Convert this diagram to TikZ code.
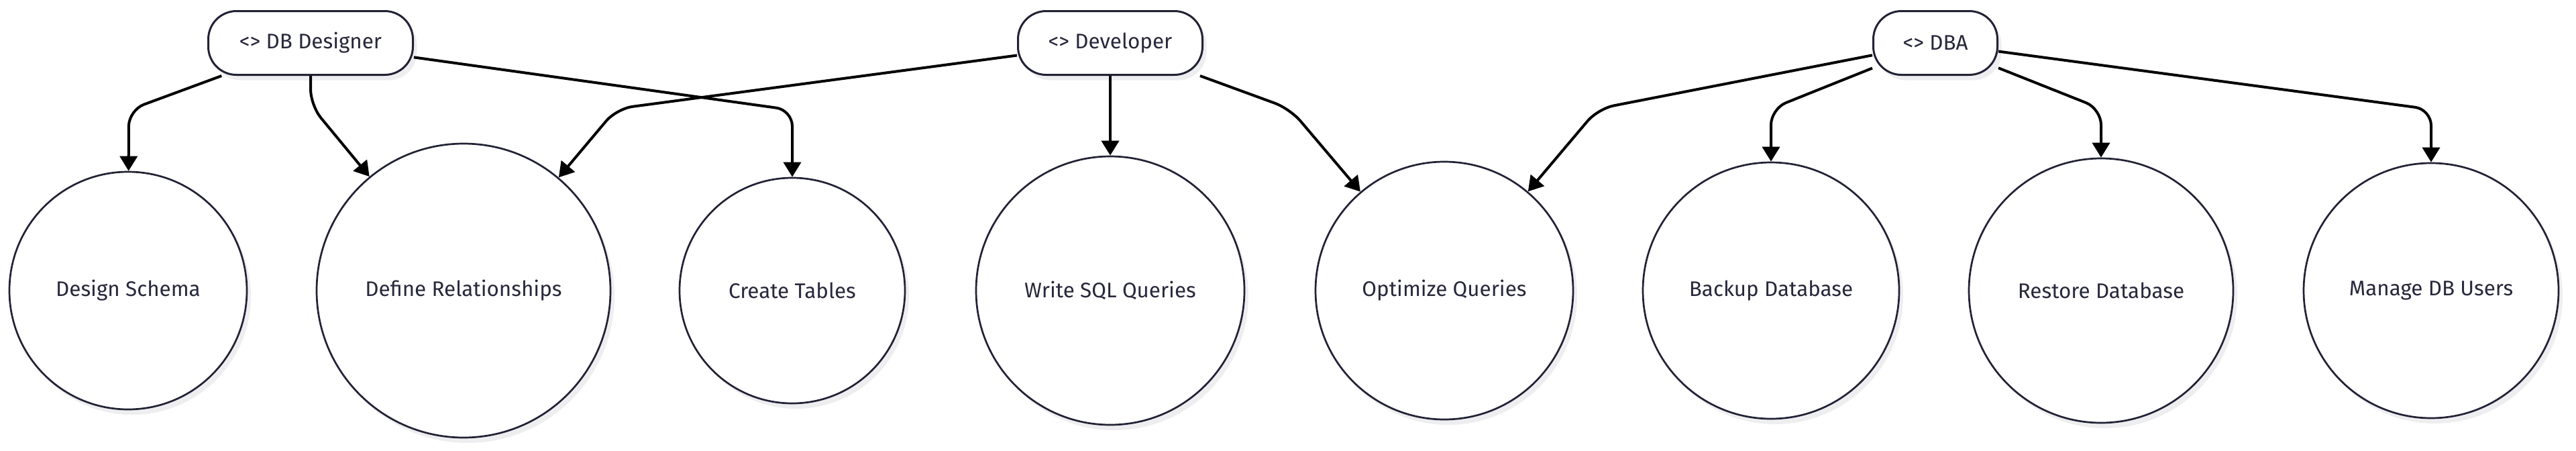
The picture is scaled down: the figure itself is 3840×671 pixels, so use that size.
\documentclass[tikz,border=0pt]{standalone}
\usepackage{fontspec}
\setmainfont{Fira Sans}
\usetikzlibrary{arrows.meta,shadows}
\definecolor{ink}{RGB}{40,40,60}
\definecolor{strokec}{RGB}{34,34,54}
\definecolor{shadowc}{RGB}{238,238,240}
\tikzset{
  px/.style={x=0.5pt,y=-0.5pt},
  actor/.style={draw=strokec, line width=1.5pt, fill=white, rectangle, rounded corners=21pt,
    minimum height=47.5pt, inner sep=0pt, text=ink, font=\fontsize{15.7}{18}\selectfont,
    drop shadow={shadow xshift=3pt, shadow yshift=-4pt, fill=shadowc, opacity=1}},
  usecase/.style={draw=strokec, line width=1.35pt, fill=white, circle, inner sep=0pt,
    text=ink, font=\fontsize{15.7}{18}\selectfont,
    drop shadow={shadow xshift=3pt, shadow yshift=-4pt, fill=shadowc, opacity=1}},
  edge/.style={draw=black, line width=2pt, rounded corners=12pt,
    -{Triangle[length=11pt,width=13pt]}},
}
\begin{document}
\begin{tikzpicture}[px]
\useasboundingbox (0,0) rectangle (3840,671);
% actors
\node[actor, minimum width=152.5pt] (dbd) at (463,64) {<> DB Designer};
\node[actor, minimum width=137.5pt] (dev) at (1655,64) {<> Developer};
\node[actor, minimum width=92.5pt]  (dba) at (2885,64) {<> DBA};
% use cases
\node[usecase, minimum size=177pt] (ds) at (191,433)  {Design Schema};
\node[usecase, minimum size=219pt] (dr) at (691,433)  {Define Relationships};
\node[usecase, minimum size=168pt] (ct) at (1181,433) {Create Tables};
\node[usecase, minimum size=200pt] (wq) at (1655,433) {Write SQL Queries};
\node[usecase, minimum size=192pt] (oq) at (2153,433) {Optimize Queries};
\node[usecase, minimum size=191pt] (bd) at (2640,433) {Backup Database};
\node[usecase, minimum size=197pt] (rd) at (3132,433) {Restore Database};
\node[usecase, minimum size=190pt] (mu) at (3624,433) {Manage DB Users};
% edges
\draw[edge] (dbd) -- (192,164) -- (ds);
\draw[edge] (dbd) -- (463,157) -- (dr);
\draw[edge] (dbd) -- (1181,164) -- (ct);
\draw[edge] (dev) -- (919,162) -- (dr);
\draw[edge] (dev) -- (wq);
\draw[edge] (dev) -- (1923,162) -- (oq);
\draw[edge] (dba) -- (2382,162) -- (oq);
\draw[edge] (dba) -- (2640,162) -- (bd);
\draw[edge] (dba) -- (3132,162) -- (rd);
\draw[edge] (dba) -- (3624,163) -- (mu);
\end{tikzpicture}
\end{document}
